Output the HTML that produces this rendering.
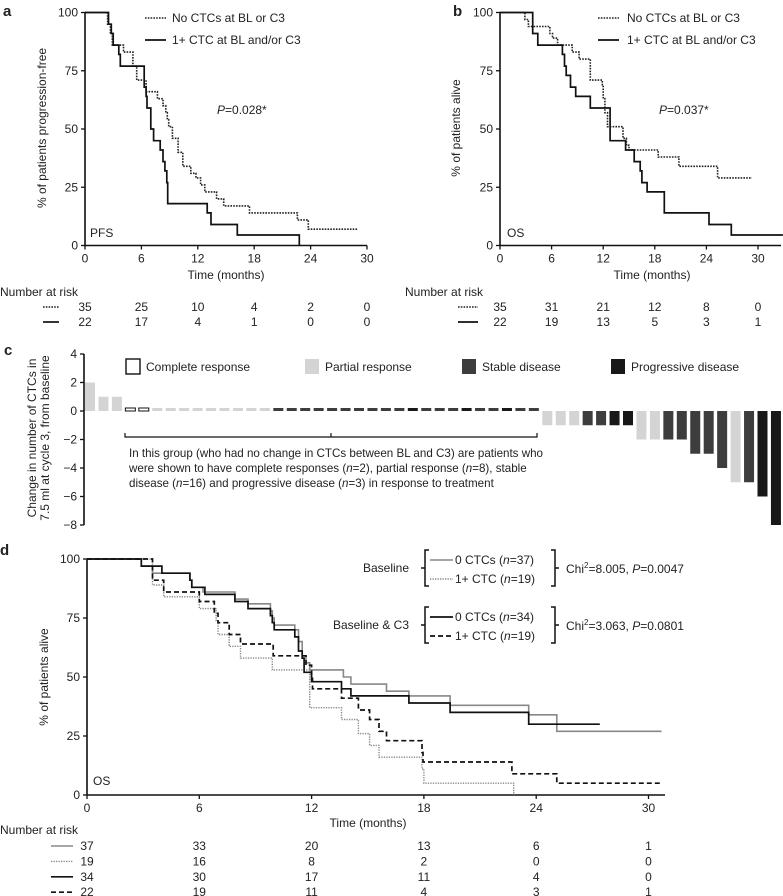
<!DOCTYPE html>
<html><head><meta charset="utf-8"><style>
html,body{margin:0;padding:0;background:#fff;}
svg{display:block;font-family:"Liberation Sans",Arial,sans-serif;}
text{fill:#222;}
</style></head><body>
<svg id="fig" width="783" height="896" viewBox="0 0 783 896">
<g id="gA"></g>
<g id="gB"></g>
<g id="gC"></g>
<g id="gD"></g>
</svg>
<script>
// ---------- Panel a data ----------
const aTicksX = [0, 6, 12, 18, 24, 30];
const aTicksY = [0, 25, 50, 75, 100];
const aNoCtcTimes = [2.4, 2.7, 2.9, 4.1, 5.1, 5.5, 6.5, 7.7, 8.3, 8.6, 8.75, 8.9, 9.3, 9.9, 10.4, 11.25, 11.8, 12.3, 12.75, 14.0, 14.75, 17.5, 22.6, 23.75];
const aNoCtcSurv = [95, 91, 86, 83, 77, 71, 66, 63, 60, 57, 54, 51, 46, 40, 34, 31, 29, 26, 23, 20, 17, 14, 11, 7];
const aNoCtcEnd = 29;
const aCtcTimes = [2.5, 2.8, 3.0, 3.6, 3.75, 6.3, 6.5, 6.6, 7.0, 7.3, 8.0, 8.3, 8.5, 8.7, 8.8, 13.0, 13.4, 16.2, 22.8];
const aCtcSurv = [95, 91, 86, 82, 77, 68, 64, 59, 50, 45, 41, 36, 32, 27, 18, 14, 9, 4.5, 0];
const aCtcEnd = 22.8;
const aRiskNo = [35, 25, 10, 4, 2, 0];
const aRiskCtc = [22, 17, 4, 1, 0, 0];
// ---------- Panel b data ----------
const bTicksX = [0, 6, 12, 18, 24, 30];
const bTicksY = [0, 25, 50, 75, 100];
const bNoCtcTimes = [2.9, 3.3, 5.8, 6.1, 6.7, 8.4, 9.2, 10.5, 11.9, 12.0, 12.2, 12.5, 14.3, 14.7, 15.0, 18.4, 20.8, 25.3];
const bNoCtcSurv = [97, 94, 91, 89, 86, 83, 80, 71, 69, 63, 57, 51, 46, 43, 41, 38, 34, 29];
const bNoCtcEnd = 29.3;
const bCtcTimes = [3.8, 4.4, 7.25, 7.5, 7.7, 8.2, 8.8, 10.5, 12.8, 14.6, 15.6, 16.3, 16.5, 17.1, 19.1, 24.3, 26.9];
const bCtcSurv = [91, 86, 82, 77, 73, 68, 64, 59, 45, 41, 36, 32, 27, 23, 14, 9, 4.5];
const bCtcEnd = 32.9;
const bRiskNo = [35, 31, 21, 12, 8, 0];
const bRiskCtc = [22, 19, 13, 5, 3, 1];
// ---------- Panel c data ----------
const cTicksY = [4, 2, 0, -2, -4, -6, -8];
const cValues = [2,1,1, 0,0,0,0,0,0,0,0,0,0,0,0,0,0,0,0,0,0,0,0,0,0,0,0,0,0,0,0,0,0,0, -1,-1,-1,-1,-1,-1,-1,-2,-2,-2,-2,-3,-3,-4,-5,-5,-6,-8];
const cCats = ['pr','pr','pr','cr','cr','pr','pr','pr','pr','pr','pr','pr','pr','pr',
 'sd','sd','sd','sd','sd','sd','sd','sd','sd','sd','pd','sd','sd','sd','pd','sd','sd','pd','sd','sd',
 'pr','pr','pr','sd','sd','pd','pd','pr','pr','sd','sd','sd','sd','sd','pr','sd','pd','pd'];
// ---------- Panel d data ----------
const dTicksX = [0, 6, 12, 18, 24, 30];
const dTicksY = [0, 25, 50, 75, 100];
const dBase0Times = [2.9, 3.5, 5.5, 5.6, 6.2, 7.9, 8.6, 9.8, 9.9, 10.0, 11.1, 11.3, 11.5, 11.7, 11.9, 13.7, 14.1, 16.0, 17.2, 19.4, 23.6, 25.1];
const dBase0Surv = [97, 94, 91, 88, 86, 83, 81, 78, 75, 72, 70, 65, 59, 56, 53, 50, 47, 44, 42, 38, 34, 27];
const dBase0End = 30.7;
const dBase1Times = [3.5, 4.1, 6.0, 6.9, 7.0, 7.6, 8.2, 9.9, 11.9, 13.6, 14.5, 15.1, 15.6, 17.9, 18.0, 22.8];
const dBase1Surv = [89, 84, 79, 74, 68, 63, 58, 53, 37, 32, 26, 21, 16, 11, 5, 0];
const dBase1End = 22.8;
const dC3zeroTimes = [2.9, 4.0, 5.5, 5.6, 6.3, 7.9, 8.6, 9.8, 9.9, 10.0, 11.1, 11.3, 11.5, 11.6, 12.0, 13.6, 14.1, 17.2, 19.4, 23.6];
const dC3zeroSurv = [97, 94, 91, 88, 85, 82, 79, 76, 73, 70, 67, 61, 58, 52, 48, 45, 42, 39, 35, 30];
const dC3zeroEnd = 27.4;
const dC3oneTimes = [3.5, 4.1, 6.0, 6.8, 7.0, 7.6, 8.2, 9.95, 11.7, 12.0, 12.05, 13.6, 14.5, 15.1, 15.6, 16.0, 17.9, 17.95, 22.7, 25.1];
const dC3oneSurv = [91, 86, 82, 77, 73, 68, 64, 59, 55, 50, 45, 41, 36, 32, 27, 23, 18, 14, 9, 5];
const dC3oneEnd = 30.7;
const dRisk = [[37,33,20,13,6,1],[19,16,8,2,0,0],[34,30,17,11,4,0],[22,19,11,4,3,1]];

const NS = "http://www.w3.org/2000/svg";
function mk(parent, tag, attrs, txt){
  const e = document.createElementNS(NS, tag);
  for (const k in attrs) e.setAttribute(k, attrs[k]);
  if (txt !== undefined) e.textContent = txt;
  parent.appendChild(e);
  return e;
}
function lin(d0, d1, r0, r1){ return v => r0 + (v - d0) * (r1 - r0) / (d1 - d0); }
function stepPath(x, y, times, surv, end){
  let d = "M" + x(0) + "," + y(100);
  for (let i = 0; i < times.length; i++) d += "H" + x(times[i]).toFixed(1) + "V" + y(surv[i]).toFixed(1);
  d += "H" + x(end).toFixed(1);
  return d;
}
function kmAxes(g, x, y, ticksX, ticksY, xEnd, name){
  const ax = mk(g, "path", {d:"M"+x(0)+","+y(100)+"V"+y(0)+"H"+xEnd, fill:"none", stroke:"#111", "stroke-width":1.6});
  
  
  ticksX.forEach(t => {
    mk(g, "line", {x1:x(t), x2:x(t), y1:y(0), y2:y(0)+4, stroke:"#111", "stroke-width":1.3});
    const l = mk(g, "text", {x:x(t), y:y(0)+17, "text-anchor":"middle", "font-size":12}, String(t));
    
    
  });
  ticksY.forEach(t => {
    mk(g, "line", {x1:x(0)-4, x2:x(0), y1:y(t), y2:y(t), stroke:"#111", "stroke-width":1.3});
    const l = mk(g, "text", {x:x(0)-7, y:y(t)+4, "text-anchor":"end", "font-size":12}, String(t));
    
    
  });
}
function label(g, x, y, s, attrs, name){
  const a = Object.assign({x:x, y:y, "font-size":12}, attrs || {});
  const t = mk(g, "text", a, s);
  
  
  return t;
}
function series(g, d, attrs, name){
  const p = mk(g, "path", Object.assign({d:d, fill:"none"}, attrs));
  
  
  return p;
}
const DOT = {stroke:"#222", "stroke-width":1.6, "stroke-dasharray":"1.6 1.2"};
const SOL = {stroke:"#111", "stroke-width":1.7};

// ===== Panel a =====
(function(){
  const g = document.getElementById("gA");
  const x = lin(0, 30, 85, 367), y = lin(0, 100, 245.5, 12.5);
  label(g, 3, 16, "a", {"font-size":15, "font-weight":"bold"}, "panel-a-label");
  kmAxes(g, x, y, aTicksX, aTicksY, 367, "panel-a");
  series(g, stepPath(x, y, aNoCtcTimes, aNoCtcSurv, aNoCtcEnd), DOT, "pfs-no-ctc-curve");
  series(g, stepPath(x, y, aCtcTimes, aCtcSurv, aCtcEnd), SOL, "pfs-ctc-curve");
  label(g, 226, 279, "Time (months)", {"text-anchor":"middle"}, "panel-a-x-axis-title");
  label(g, 0, 0, "% of patients progression-free", {"text-anchor":"middle", transform:"translate(46,128) rotate(-90)"}, "panel-a-y-axis-title");
  mk(g, "line", Object.assign({x1:145, x2:166, y1:18, y2:18}, DOT));
  label(g, 172, 22, "No CTCs at BL or C3", {}, "legend-no-ctc");
  mk(g, "line", Object.assign({x1:145, x2:166, y1:40, y2:40}, SOL));
  label(g, 172, 44, "1+ CTC at BL and/or C3", {}, "legend-ctc");
  const p = label(g, 217, 114, "", {}, "p-value-a");
  mk(p, "tspan", {"font-style":"italic"}, "P"); mk(p, "tspan", {}, "=0.028*");
  label(g, 90, 237, "PFS", {}, "pfs-label");
  label(g, 0, 296, "Number at risk", {}, "number-at-risk-title-a");
  mk(g, "line", Object.assign({x1:43, x2:59, y1:307, y2:307}, DOT));
  mk(g, "line", Object.assign({x1:43, x2:59, y1:322, y2:322}, SOL));
  aTicksX.forEach((t, i) => {
    label(g, x(t), 311, String(aRiskNo[i]), {"text-anchor":"middle"}, "risk-a-no-ctc");
    label(g, x(t), 326, String(aRiskCtc[i]), {"text-anchor":"middle"}, "risk-a-ctc");
  });
})();

// ===== Panel b =====
(function(){
  const g = document.getElementById("gB");
  const x = lin(0, 30, 500, 758), y = lin(0, 100, 245.5, 12.5);
  label(g, 453, 16, "b", {"font-size":15, "font-weight":"bold"}, "panel-b-label");
  kmAxes(g, x, y, bTicksX, bTicksY, 781, "panel-b");
  series(g, stepPath(x, y, bNoCtcTimes, bNoCtcSurv, bNoCtcEnd), DOT, "os-no-ctc-curve");
  series(g, stepPath(x, y, bCtcTimes, bCtcSurv, bCtcEnd), SOL, "os-ctc-curve");
  label(g, 652, 279, "Time (months)", {"text-anchor":"middle"}, "panel-b-x-axis-title");
  label(g, 0, 0, "% of patients alive", {"text-anchor":"middle", transform:"translate(460,128) rotate(-90)"}, "panel-b-y-axis-title");
  mk(g, "line", Object.assign({x1:598, x2:619, y1:18, y2:18}, DOT));
  label(g, 627, 22, "No CTCs at BL or C3", {}, "legend-b-no-ctc");
  mk(g, "line", Object.assign({x1:598, x2:619, y1:40, y2:40}, SOL));
  label(g, 627, 44, "1+ CTC at BL and/or C3", {}, "legend-b-ctc");
  const p = label(g, 659, 114, "", {}, "p-value-b");
  mk(p, "tspan", {"font-style":"italic"}, "P"); mk(p, "tspan", {}, "=0.037*");
  label(g, 507, 237, "OS", {}, "os-label-b");
  label(g, 405, 296, "Number at risk", {}, "number-at-risk-title-b");
  mk(g, "line", Object.assign({x1:458, x2:478, y1:307, y2:307}, DOT));
  mk(g, "line", Object.assign({x1:458, x2:478, y1:322, y2:322}, SOL));
  bTicksX.forEach((t, i) => {
    label(g, x(t), 311, String(bRiskNo[i]), {"text-anchor":"middle"}, "risk-b-no-ctc");
    label(g, x(t), 326, String(bRiskCtc[i]), {"text-anchor":"middle"}, "risk-b-ctc");
  });
})();

// ===== Panel c =====
(function(){
  const g = document.getElementById("gC");
  const y = lin(0, 4, 411, 354);
  const xi = i => 85 + i * 13.45;
  const fills = {cr:"#fff", pr:"#d4d4d4", sd:"#3d3d3d", pd:"#181818"};
  label(g, 4, 355, "c", {"font-size":15, "font-weight":"bold"}, "panel-c-label");
  const ax = mk(g, "path", {d:"M84,"+y(4)+"V"+y(-8), fill:"none", stroke:"#111", "stroke-width":1.6});
  
  
  cTicksY.forEach(t => {
    mk(g, "line", {x1:80, x2:84, y1:y(t), y2:y(t), stroke:"#111", "stroke-width":1.3});
    label(g, 77, y(t)+4, t < 0 ? "\u2212" + (-t) : String(t), {"text-anchor":"end"}, "panel-c-y-tick-label");
  });
  const yt = label(g, 0, 0, "", {"text-anchor":"middle", transform:"translate(0,438) rotate(-90)"}, "panel-c-y-axis-title");
  mk(yt, "tspan", {x:0, y:36}, "Change in number of CTCs in");
  mk(yt, "tspan", {x:0, y:49}, "7.5 ml at cycle 3, from baseline");
  cValues.forEach((v, i) => {
    const c = cCats[i];
    let top, h;
    if (v === 0) { top = y(0) - 3; h = 3; }
    else if (v > 0) { top = y(v); h = y(0) - y(v); }
    else { top = y(0); h = y(v) - y(0); }
    const r = mk(g, "rect", {x:xi(i), y:top, width:10, height:h, fill:fills[c]});
    if (c === 'cr') { r.setAttribute("stroke", "#111"); r.setAttribute("stroke-width", 1); }
    
    
  });
  const br = mk(g, "path", {d:"M125,433V437H537V433M331,437V433", fill:"none", stroke:"#111", "stroke-width":1.2});
  
  
  const ann = label(g, 0, 0, "", {"font-size":11.6}, "no-change-annotation");
  mk(ann, "tspan", {x:129, y:457}, "In this group (who had no change in CTCs between BL and C3) are patients who");
  mk(ann, "tspan", {x:129, y:472}, "were shown to have complete responses (");
  mk(ann, "tspan", {"font-style":"italic"}, "n"); mk(ann, "tspan", {}, "=2), partial response (");
  mk(ann, "tspan", {"font-style":"italic"}, "n"); mk(ann, "tspan", {}, "=8), stable");
  mk(ann, "tspan", {x:129, y:487}, "disease (");
  mk(ann, "tspan", {"font-style":"italic"}, "n"); mk(ann, "tspan", {}, "=16) and progressive disease (");
  mk(ann, "tspan", {"font-style":"italic"}, "n"); mk(ann, "tspan", {}, "=3) in response to treatment");
  const leg = [["cr",126,"Complete response"],["pr",305,"Partial response"],["sd",462,"Stable disease"],["pd",611,"Progressive disease"]];
  leg.forEach(L => {
    const b = mk(g, "rect", {x:L[1], y:359, width:14, height:15, fill:fills[L[0]]});
    if (L[0] === 'cr') { b.setAttribute("stroke", "#111"); b.setAttribute("stroke-width", 1.4); }
    
    
    label(g, L[1] + 20, 371, L[2], {}, "legend-label-" + L[0]);
  });
})();

// ===== Panel d =====
(function(){
  const g = document.getElementById("gD");
  const x = lin(0, 30, 87, 648.5), y = lin(0, 100, 795, 559);
  label(g, 0, 555, "d", {"font-size":15, "font-weight":"bold"}, "panel-d-label");
  kmAxes(g, x, y, dTicksX, dTicksY, 665, "panel-d");
  const GRAY = {stroke:"#888", "stroke-width":1.6};
  const GDOT = {stroke:"#888", "stroke-width":1.4, "stroke-dasharray":"1.3 1.2"};
  const DASH = {stroke:"#111", "stroke-width":1.7, "stroke-dasharray":"5 3"};
  series(g, stepPath(x, y, dBase0Times, dBase0Surv, dBase0End), GRAY, "baseline-0-ctc-curve");
  series(g, stepPath(x, y, dBase1Times, dBase1Surv, dBase1End), GDOT, "baseline-1-ctc-curve");
  series(g, stepPath(x, y, dC3zeroTimes, dC3zeroSurv, dC3zeroEnd), SOL, "bl-c3-0-ctc-curve");
  series(g, stepPath(x, y, dC3oneTimes, dC3oneSurv, dC3oneEnd), DASH, "bl-c3-1-ctc-curve");
  label(g, 368, 827, "Time (months)", {"text-anchor":"middle"}, "panel-d-x-axis-title");
  label(g, 0, 0, "% of patients alive", {"text-anchor":"middle", transform:"translate(48,677) rotate(-90)"}, "panel-d-y-axis-title");
  label(g, 93, 785, "OS", {}, "os-label-d");
  function group(y0, title, st1, t1, st2, t2, chi, p, nm){
    label(g, 409, y0 + 12, title, {"text-anchor":"end"}, nm + "-title");
    mk(g, "path", {d:"M429,"+(y0-10)+"h-4V"+(y0+26)+"h4M425,"+(y0+8)+"h-4", fill:"none", stroke:"#111", "stroke-width":1.5});
    mk(g, "path", {d:"M551,"+(y0-10)+"h4V"+(y0+26)+"h-4M555,"+(y0+8)+"h4", fill:"none", stroke:"#111", "stroke-width":1.5});
    mk(g, "line", Object.assign({x1:430, x2:453, y1:y0, y2:y0}, st1));
    const a = label(g, 455, y0 + 4, "", {}, nm + "-entry-0");
    mk(a, "tspan", {}, "0 CTCs ("); mk(a, "tspan", {"font-style":"italic"}, "n"); mk(a, "tspan", {}, "=" + t1 + ")");
    mk(g, "line", Object.assign({x1:430, x2:453, y1:y0+19, y2:y0+19}, st2));
    const b = label(g, 455, y0 + 23, "", {}, nm + "-entry-1");
    mk(b, "tspan", {}, "1+ CTC ("); mk(b, "tspan", {"font-style":"italic"}, "n"); mk(b, "tspan", {}, "=" + t2 + ")");
    const c = label(g, 566, y0 + 13, "", {}, nm + "-stat");
    mk(c, "tspan", {}, "Chi"); mk(c, "tspan", {dy:-5, "font-size":8}, "2");
    mk(c, "tspan", {dy:5}, "=" + chi + ", "); mk(c, "tspan", {"font-style":"italic"}, "P"); mk(c, "tspan", {}, "=" + p);
  }
  group(560, "Baseline", GRAY, "37", GDOT, "19", "8.005", "0.0047", "legend-baseline");
  group(617, "Baseline & C3", SOL, "34", DASH, "19", "3.063", "0.0801", "legend-bl-c3");
  label(g, 0, 834, "Number at risk", {}, "number-at-risk-title-d");
  const sty = [GRAY, GDOT, SOL, DASH];
  dRisk.forEach((row, r) => {
    const yy = 846 + r * 15.4;
    mk(g, "line", Object.assign({x1:51, x2:73, y1:yy, y2:yy}, sty[r]));
    row.forEach((v, i) => label(g, x(dTicksX[i]), yy + 4, String(v), {"text-anchor":"middle"}, "risk-d-row-" + r));
  });
})();
</script>
</body></html>
